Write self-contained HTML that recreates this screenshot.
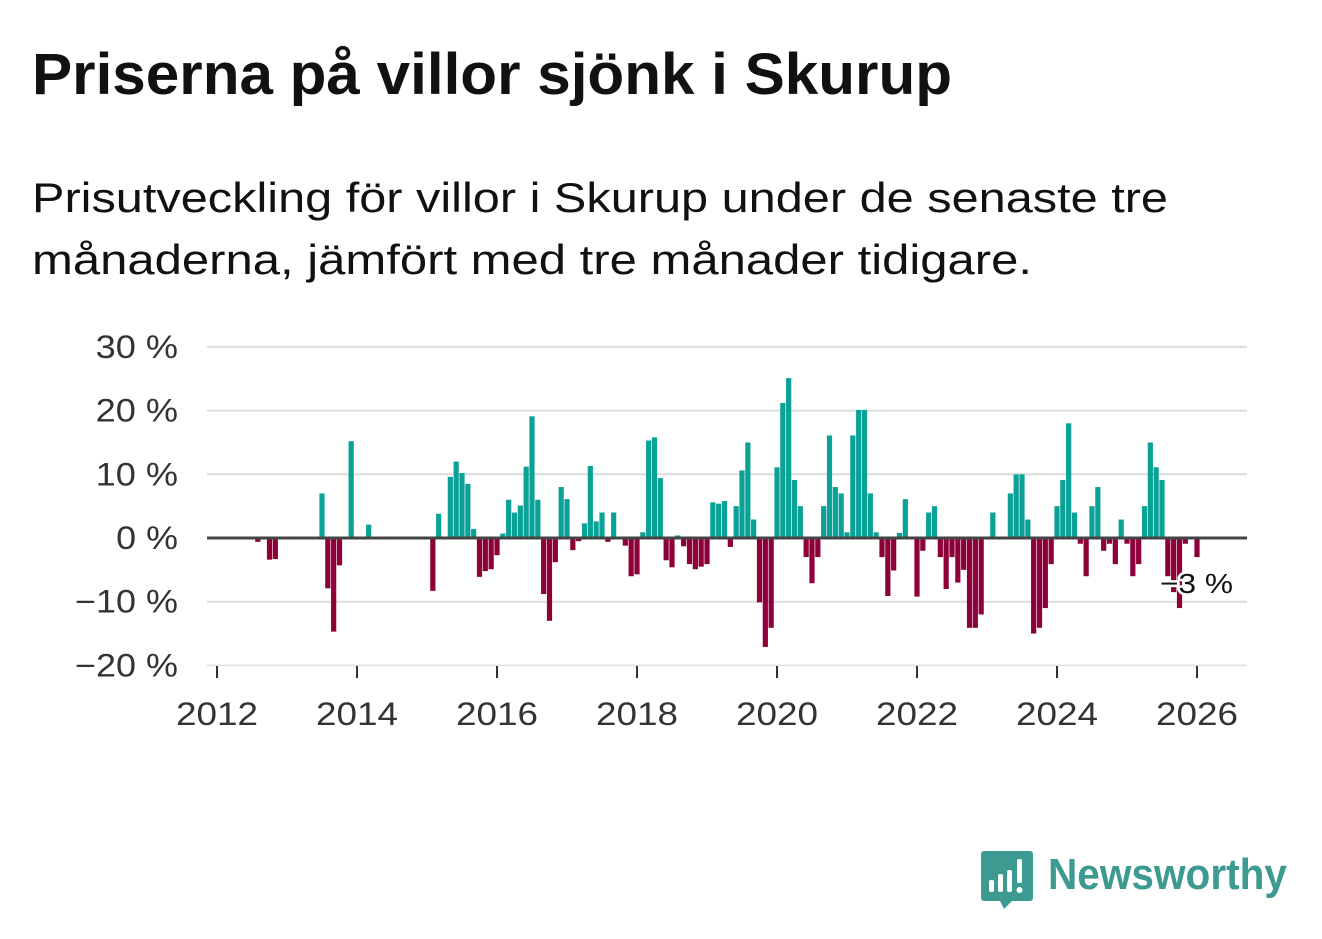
<!DOCTYPE html>
<html><head><meta charset="utf-8"><style>
body{margin:0;background:#fff;}
svg{display:block;font-family:"Liberation Sans","Noto Sans CJK SC",sans-serif;}
</style></head><body>
<svg id="chart" width="1322" height="939" viewBox="0 0 1322 939">
<text x="32" y="94" font-size="58" font-weight="bold" fill="#111" textLength="920" lengthAdjust="spacingAndGlyphs">Priserna på villor sjönk i Skurup</text>
<text x="32" y="212" font-size="42" fill="#111" textLength="1136" lengthAdjust="spacingAndGlyphs">Prisutveckling för villor i Skurup under de senaste tre</text>
<text x="32" y="274" font-size="42" fill="#111" textLength="1000" lengthAdjust="spacingAndGlyphs">månaderna, jämfört med tre månader tidigare.</text>
<g id="grid"></g><g id="bars"></g><g id="axes"></g>
<g>
<path d="M984 851 h46 a3 3 0 0 1 3 3 v44 a3 3 0 0 1 -3 3 h-18 l-8 8 l-4 -8 h-16 a3 3 0 0 1 -3 -3 v-44 a3 3 0 0 1 3 -3z" fill="#3c9a90"/>
<rect x="989" y="880" width="5" height="12" rx="2" fill="#fff"/>
<rect x="998" y="874" width="5" height="18" rx="2" fill="#fff"/>
<rect x="1007" y="870" width="5" height="22" rx="2" fill="#fff"/>
<rect x="1017" y="859" width="5" height="24" rx="2" fill="#fff"/>
<circle cx="1019.5" cy="890" r="3" fill="#fff"/>
<text x="1048" y="889" font-size="44" font-weight="bold" fill="#3c9a90" textLength="239" lengthAdjust="spacingAndGlyphs">Newsworthy</text>
</g>
</svg>
<script>
const values = [0,0,0,0,0,0,0,-0.6,0,-3.4,-3.3,0,0,0,0,0,0,0,7.0,-7.9,-14.7,-4.3,0,15.2,0,0,2.1,0,0,0,0,0,0,0,0,0,0,-8.3,3.8,0,9.6,12.0,10.2,8.5,1.4,-6.1,-5.2,-4.9,-2.7,0.7,6.0,4.0,5.1,11.2,19.1,6.0,-8.8,-13.0,-3.8,8.0,6.1,-1.9,-0.5,2.3,11.3,2.6,4.0,-0.6,4.0,0,-1.2,-6.0,-5.7,0.9,15.3,15.8,9.4,-3.5,-4.6,0.4,-1.3,-4.1,-4.9,-4.5,-4.1,5.6,5.4,5.8,-1.4,5.0,10.6,15.0,2.9,-10.1,-17.1,-14.1,11.1,21.2,25.1,9.1,5.0,-3.0,-7.1,-3.0,5.0,16.1,8.0,7.0,0.9,16.1,20.1,20.1,7.0,0.9,-3.0,-9.1,-5.1,0.8,6.1,0,-9.2,-2.0,4.0,5.0,-3.0,-8.0,-3.0,-7.0,-5.0,-14.1,-14.1,-12.0,0,4.0,0,0,7.0,10.0,10.0,2.9,-15.0,-14.1,-11.0,-4.1,5.0,9.1,18.0,4.0,-0.9,-6.0,5.0,8.0,-2.0,-0.9,-4.1,2.9,-0.9,-6.0,-4.1,5.0,15.0,11.1,9.1,-6.0,-8.5,-11.0,-0.9,0,-3.0];
const startYear = 2012;
const yTicks = [30,20,10,0,-10,-20];
const yTickLabels = ["30 %","20 %","10 %","0 %","−10 %","−20 %"];
const xTicks = [2012,2014,2016,2018,2020,2022,2024,2026];
const lastLabel = "−3 %";
const NS="http://www.w3.org/2000/svg";
function y(v){return 538 - v*6.37;}
function x(m){return 217 + m*70/12;}
function mk(tag,attrs,parent){const e=document.createElementNS(NS,tag);for(const k in attrs)e.setAttribute(k,attrs[k]);parent.appendChild(e);return e;}
const grid=document.getElementById('grid'),bars=document.getElementById('bars'),axes=document.getElementById('axes');
yTicks.forEach((t,i)=>{
  if(t!==0){const l=mk('line',{x1:207,x2:1247,y1:y(t),y2:y(t),stroke:t===-20?'#e6e6e6':'#dcdcdc','stroke-width':2},grid);
  
  }
  const lab=yTickLabels[i];
  const w=lab.length*20.6;
  const tx=mk('text',{x:178,y:y(t)+11,'font-size':32,fill:'#333','text-anchor':'end',textLength:w,lengthAdjust:'spacingAndGlyphs'},axes);
  tx.textContent=lab;
  
  
});
values.forEach((v,m)=>{
  if(v===0)return;
  const cx=x(m);
  const r=mk('rect',{x:cx-2.6,y:Math.min(y(v),y(0)),width:5.2,height:Math.abs(y(v)-y(0)),fill:v>0?'#0aa297':'#8e0038'},bars);
  
  
});
const zl=mk('line',{x1:207,x2:1247,y1:y(0),y2:y(0),stroke:'#444','stroke-width':3},axes);


xTicks.forEach(yr=>{
  const cx=x((yr-startYear)*12);
  const tk=mk('line',{x1:cx,x2:cx,y1:666,y2:678,stroke:'#333','stroke-width':2},axes);
  
  
  const t=mk('text',{x:cx,y:725,'font-size':32,fill:'#333','text-anchor':'middle',textLength:82,lengthAdjust:'spacingAndGlyphs'},axes);
  t.textContent=yr;
  
  
});
const lbl=mk('text',{x:1160,y:593,'font-size':28,fill:'#111',stroke:'#fff','stroke-width':5,'paint-order':'stroke','stroke-linejoin':'round',textLength:73,lengthAdjust:'spacingAndGlyphs'},axes);
lbl.textContent=lastLabel;


</script>
</body></html>
